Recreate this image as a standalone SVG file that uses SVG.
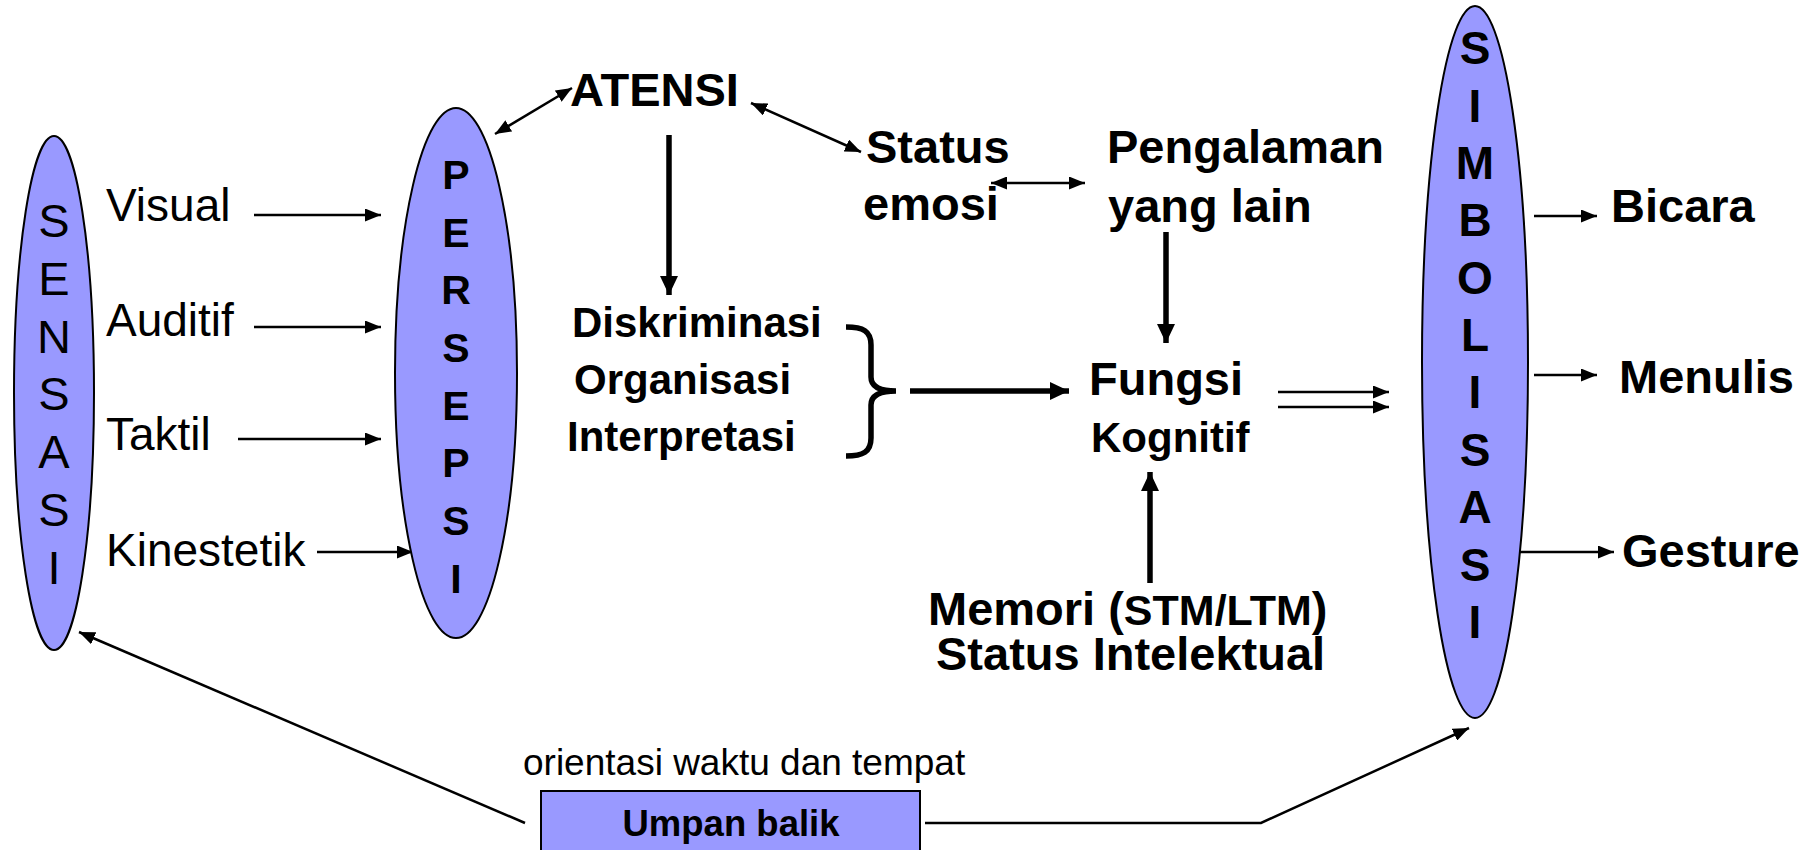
<svg xmlns="http://www.w3.org/2000/svg" width="1811" height="850" viewBox="0 0 1811 850">
<defs>
<style>
text{font-family:"Liberation Sans",Arial,sans-serif;fill:#000}
.b{font-weight:bold}
.r{font-size:46px}
.l47{font-size:47px;font-weight:bold}
.l42{font-size:42px;font-weight:bold}
.ell{fill:#9999FF;stroke:#000;stroke-width:2}
.thin{stroke:#000;stroke-width:2.5;fill:none}
.thick{stroke:#000;stroke-width:5.5;fill:none}
.vs{font-size:47px;text-anchor:middle}
.vp{font-size:41px;font-weight:bold;text-anchor:middle}
.vm{font-size:46px;font-weight:bold;text-anchor:middle}
</style>
<marker id="ah" markerUnits="userSpaceOnUse" markerWidth="16" markerHeight="13" refX="16" refY="6.5" orient="auto-start-reverse"><path d="M0,0 L16,6.5 L0,13 z" fill="#000"/></marker>
<marker id="ahT" markerUnits="userSpaceOnUse" markerWidth="19" markerHeight="18" refX="19" refY="9" orient="auto-start-reverse"><path d="M0,0 L19,9 L0,18 z" fill="#000"/></marker>
</defs>
<rect width="1811" height="850" fill="#fff"/>

<g id="connectors">
<line class="thin" x1="254" y1="215" x2="381" y2="215" marker-end="url(#ah)"/>
<line class="thin" x1="254" y1="327" x2="381" y2="327" marker-end="url(#ah)"/>
<line class="thin" x1="238" y1="439" x2="381" y2="439" marker-end="url(#ah)"/>
<line class="thin" x1="317" y1="552" x2="413" y2="552" marker-end="url(#ah)"/>
<line class="thin" x1="495" y1="134" x2="572" y2="88" marker-start="url(#ah)" marker-end="url(#ah)"/>
<line class="thin" x1="751" y1="103" x2="861" y2="152" marker-start="url(#ah)" marker-end="url(#ah)"/>
<line class="thin" x1="991" y1="183" x2="1085" y2="183" marker-start="url(#ah)" marker-end="url(#ah)"/>
<line class="thick" x1="669" y1="135" x2="669" y2="295" marker-end="url(#ahT)"/>
<line class="thick" x1="1166" y1="232" x2="1166" y2="343" marker-end="url(#ahT)"/>
<line class="thick" x1="1150" y1="583" x2="1150" y2="472" marker-end="url(#ahT)"/>
<path class="thick" d="M846,327 C863,327 871,331 871,345 L871,377 C871,387 880,391 896,391 C880,391 871,395 871,405 L871,438 C871,452 863,456 846,456"/>
<line class="thick" x1="910" y1="391" x2="1069" y2="391" marker-end="url(#ahT)"/>
<line class="thin" x1="1278" y1="392" x2="1389" y2="392" marker-end="url(#ah)"/>
<line class="thin" x1="1278" y1="407" x2="1389" y2="407" marker-end="url(#ah)"/>
<line class="thin" x1="1534" y1="216" x2="1597" y2="216" marker-end="url(#ah)"/>
<line class="thin" x1="1534" y1="375" x2="1597" y2="375" marker-end="url(#ah)"/>
<line class="thin" x1="1518" y1="552" x2="1614" y2="552" marker-end="url(#ah)"/>
<line class="thin" x1="525" y1="823" x2="79" y2="632" marker-end="url(#ah)"/>
<polyline class="thin" points="925,823 1261,823 1469,728" marker-end="url(#ah)"/>
</g>

<g id="sensasi">
<ellipse class="ell" cx="54" cy="393" rx="40" ry="257"/>
<text class="vs" x="54" y="237">S</text>
<text class="vs" x="54" y="295">E</text>
<text class="vs" x="54" y="353">N</text>
<text class="vs" x="54" y="410">S</text>
<text class="vs" x="54" y="468">A</text>
<text class="vs" x="54" y="526">S</text>
<text class="vs" x="54" y="584">I</text>
</g>

<g id="inputs">
<text class="r" x="106" y="221">Visual</text>
<text class="r" x="106" y="336">Auditif</text>
<text class="r" x="106" y="450">Taktil</text>
<text class="r" x="106" y="566">Kinestetik</text>
</g>

<g id="persepsi">
<ellipse class="ell" cx="456" cy="373" rx="61" ry="265"/>
<text class="vp" x="456" y="189">P</text>
<text class="vp" x="456" y="247">E</text>
<text class="vp" x="456" y="304">R</text>
<text class="vp" x="456" y="362">S</text>
<text class="vp" x="456" y="420">E</text>
<text class="vp" x="456" y="477">P</text>
<text class="vp" x="456" y="535">S</text>
<text class="vp" x="456" y="593">I</text>
</g>

<g id="atensi"><text class="l47" x="570" y="106">ATENSI</text></g>
<g id="status-emosi">
<text class="l47" x="866" y="163">Status</text>
<text class="l47" x="863" y="220">emosi</text>
</g>
<g id="pengalaman">
<text class="l47" x="1107" y="163">Pengalaman</text>
<text class="l47" x="1108" y="222">yang lain</text>
</g>
<g id="proses">
<text class="l42" x="572" y="337">Diskriminasi</text>
<text class="l42" x="574" y="394">Organisasi</text>
<text class="l42" x="567" y="451">Interpretasi</text>
</g>
<g id="fungsi">
<text class="l47" x="1089" y="395">Fungsi</text>
<text class="l42" x="1091" y="452">Kognitif</text>
</g>
<g id="memori">
<text class="l47" x="928" y="625">Memori (<tspan font-size="43px">STM/LTM</tspan>)</text>
<text class="l47" x="936" y="670">Status Intelektual</text>
</g>

<g id="simbolisasi">
<ellipse class="ell" cx="1475" cy="362" rx="53" ry="356"/>
<text class="vm" x="1475" y="64">S</text>
<text class="vm" x="1475" y="122">I</text>
<text class="vm" x="1475" y="179">M</text>
<text class="vm" x="1475" y="236">B</text>
<text class="vm" x="1475" y="294">O</text>
<text class="vm" x="1475" y="351">L</text>
<text class="vm" x="1475" y="408">I</text>
<text class="vm" x="1475" y="466">S</text>
<text class="vm" x="1475" y="523">A</text>
<text class="vm" x="1475" y="581">S</text>
<text class="vm" x="1475" y="638">I</text>
</g>

<g id="outputs">
<text class="l47" x="1611" y="222">Bicara</text>
<text class="l47" x="1619" y="393">Menulis</text>
<text class="l47" x="1622" y="567">Gesture</text>
</g>

<g id="umpan-balik">
<text x="523" y="775" font-size="37px">orientasi waktu dan tempat</text>
<rect x="541" y="791" width="379" height="70" fill="#9999FF" stroke="#000" stroke-width="2"/>
<text class="b" x="731" y="836" font-size="36.5px" text-anchor="middle">Umpan balik</text>
</g>
</svg>
